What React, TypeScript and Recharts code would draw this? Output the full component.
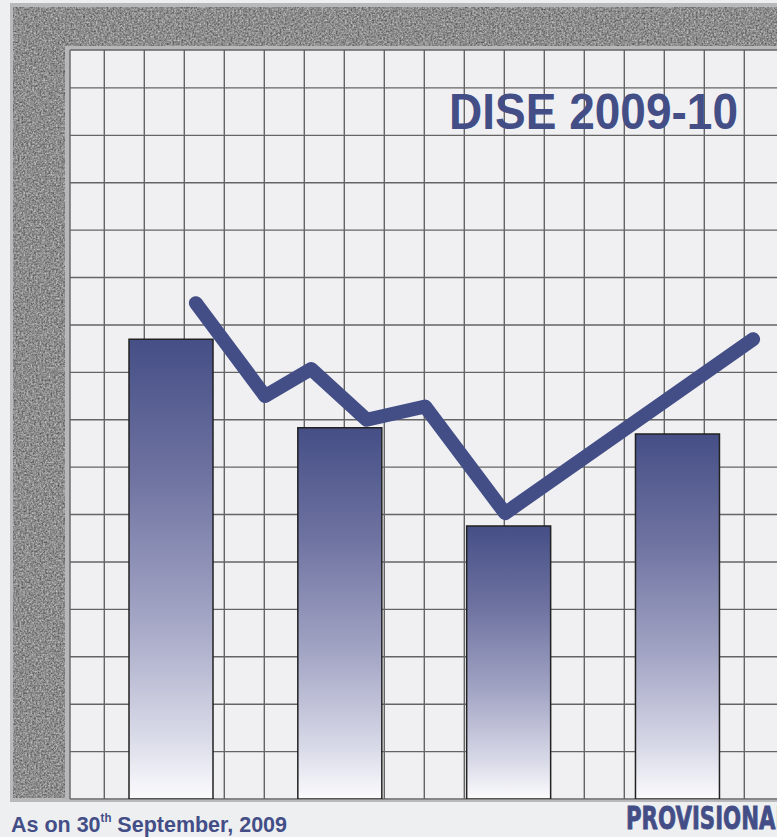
import React from 'react';
import {
  ComposedChart,
  Bar,
  Line,
  XAxis,
  YAxis,
  CartesianGrid,
} from 'recharts';

// bar categories (no labels are printed on the picture)
const categories = ['Bar 1', 'Bar 2', 'Bar 3', 'Bar 4'];
const barValues = [9.7, 7.83, 5.76, 7.7];

// trend line, on its own numeric x scale (one grid column = 1 unit)
const lineX = [3.29, 5.02, 6.17, 7.56, 9.02, 11.02, 17.22];
const lineY = [10.46, 8.5, 9.07, 8.0, 8.28, 6.03, 9.7];

const xGridTicks = [1, 2, 3, 4, 5, 6, 7, 8, 9, 10, 11, 12, 13, 14, 15, 16, 17];
const yGridTicks = [0, 1, 2, 3, 4, 5, 6, 7, 8, 9, 10, 11, 12, 13, 14, 15];

const title = 'DISE 2009-10';
const footnoteMain = 'As on 30';
const footnoteSup = 'th';
const footnoteRest = ' September, 2009';
const stamp = 'PROVISIONAL';

const NAVY = '#434e87';

const barData = categories.map((name, i) => ({ name, value: barValues[i] }));
const lineData = lineX.map((x, i) => ({ x, y: lineY[i] }));

const Frame = () => (
  <svg width={777} height={837} style={{ position: 'absolute', left: 0, top: 0 }}>
    <defs>
      <filter
        id="grain"
        filterUnits="userSpaceOnUse"
        x="0"
        y="0"
        width="800"
        height="837"
        colorInterpolationFilters="sRGB"
      >
        <feTurbulence type="fractalNoise" baseFrequency="0.55" numOctaves="3" seed="4" result="n" />
        <feColorMatrix
          in="n"
          type="matrix"
          values="0.6 0 0 0 0.25  0.6 0 0 0 0.25  0.6 0 0 0 0.25  0 0 0 0 1"
          result="g"
        />
        <feComposite in="g" in2="SourceGraphic" operator="in" />
      </filter>
    </defs>
    <rect x={10} y={3} width={790} height={799} fill="#b9b9bb" />
    <rect x={13} y={7} width={790} height={791} fill="#8a8a8a" filter="url(#grain)" />
    <rect x={65} y={46} width={740} height={754} fill="#b7b7b9" />
    <rect x={70} y={50} width={740} height={750} fill="#f0f0f2" />
  </svg>
);

const Labels = () => (
  <svg
    width={777}
    height={837}
    style={{ position: 'absolute', left: 0, top: 0, pointerEvents: 'none' }}
  >
    <text
      x={449}
      y={129}
      fontFamily="'Liberation Sans', Arial, sans-serif"
      fontWeight={700}
      fontSize={50}
      fill={NAVY}
      textLength={289}
      lengthAdjust="spacingAndGlyphs"
    >
      {title}
    </text>
    <text
      x={11}
      y={832}
      fontFamily="'Liberation Sans', Arial, sans-serif"
      fontWeight={700}
      fontSize={22.5}
      fill={NAVY}
      textLength={276}
      lengthAdjust="spacingAndGlyphs"
    >
      {footnoteMain}
      <tspan fontSize={12} dy={-10}>{footnoteSup}</tspan>
      <tspan dy={10}>{footnoteRest}</tspan>
    </text>
    <text
      x={626}
      y={829}
      fontFamily="'Liberation Sans Narrow', 'DejaVu Sans Condensed', 'Liberation Sans', sans-serif"
      fontWeight={700}
      fontSize={32}
      fill={NAVY}
      stroke={NAVY}
      strokeWidth={0.8}
      textLength={163}
      lengthAdjust="spacingAndGlyphs"
    >
      {stamp}
    </text>
  </svg>
);

export default function App() {
  return (
    <div
      style={{
        position: 'fixed',
        left: 0,
        top: 0,
        width: 777,
        height: 837,
        overflow: 'hidden',
        background: '#eeeff1',
      }}
    >
      <Frame />
      <div style={{ position: 'absolute', left: 0, top: 0 }}>
        <ComposedChart
          width={790}
          height={837}
          data={barData}
          margin={{ top: 50, right: 5.7, bottom: 38, left: 70 }}
        >
          <defs>
            <linearGradient id="barFill" x1="0" y1="0" x2="0" y2="1">
              <stop offset="0%" stopColor="#454f86" />
              <stop offset="30%" stopColor="#6f73a1" />
              <stop offset="60%" stopColor="#a2a4c4" />
              <stop offset="85%" stopColor="#d6d7e6" />
              <stop offset="100%" stopColor="#fbfbfd" />
            </linearGradient>
          </defs>
          <CartesianGrid
            xAxisId="line"
            stroke="#646464"
            strokeWidth={1.4}
            strokeOpacity={1}
          />
          <XAxis
            xAxisId="bars"
            dataKey="name"
            type="category"
            hide
            padding={{ left: 17, right: 22 }}
          />
          <XAxis
            xAxisId="line"
            dataKey="x"
            type="number"
            domain={[0.1425, 18]}
            ticks={xGridTicks}
            allowDataOverflow
            hide
          />
          <YAxis type="number" domain={[0, 15.8]} ticks={yGridTicks} allowDataOverflow hide />
          <Bar
            xAxisId="bars"
            dataKey="value"
            barSize={84}
            fill="url(#barFill)"
            stroke="#222"
            strokeWidth={1.5}
            isAnimationActive={false}
          />
          <Line
            xAxisId="line"
            data={lineData}
            dataKey="y"
            type="linear"
            stroke={NAVY}
            strokeWidth={14}
            strokeLinecap="round"
            strokeLinejoin="round"
            dot={false}
            activeDot={false}
            isAnimationActive={false}
          />
        </ComposedChart>
      </div>
      <Labels />
    </div>
  );
}
